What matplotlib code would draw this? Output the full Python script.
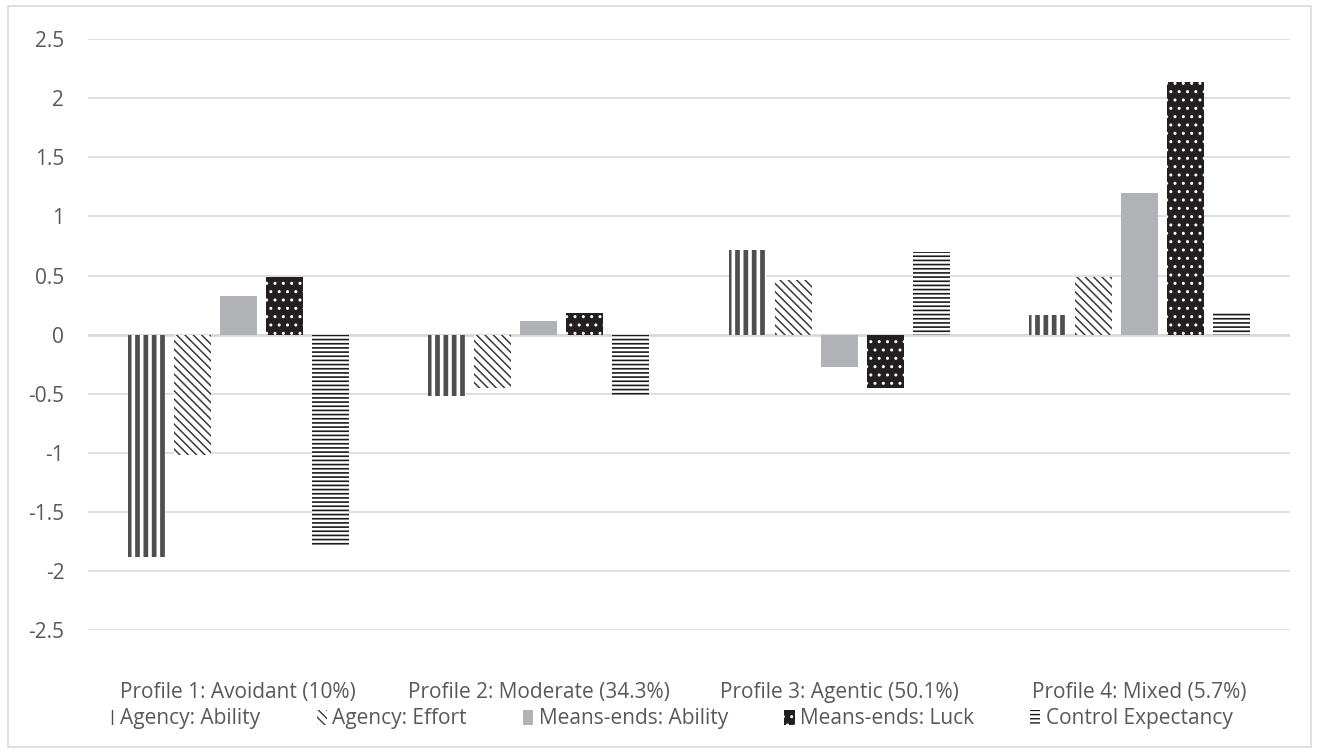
import numpy as np
import matplotlib
matplotlib.use("Agg")
import matplotlib.pyplot as plt
from matplotlib.patches import Rectangle

profiles = ["Profile 1: Avoidant (10%)", "Profile 2: Moderate (34.3%)",
            "Profile 3: Agentic (50.1%)", "Profile 4: Mixed (5.7%)"]
series = ["Agency: Ability", "Agency: Effort", "Means-ends: Ability",
          "Means-ends: Luck", "Control Expectancy"]

agency_ability = [-1.88, -0.52, 0.72, 0.17]
agency_effort = [-1.02, -0.45, 0.46, 0.49]
meansends_ability = [0.33, 0.12, -0.27, 1.20]
meansends_luck = [0.49, 0.18, -0.45, 2.14]
control_expectancy = [-1.78, -0.51, 0.70, 0.18]

values = [agency_ability, agency_effort, meansends_ability,
          meansends_luck, control_expectancy]

# fill, hatch colour, hatch, hatch line width
styles = [
    ("white", "#4f4f4f", "||", 3.4),
    ("white", "#3a3a3a", "\\\\\\\\", 1.1),
    ("#b1b2b6", "#b1b2b6", "", 1.0),
    ("#231f20", "white", "..", 1.0),
    ("white", "#1c1c1c", "----", 1.2),
]

plt.rcParams["font.family"] = ["Open Sans", "DejaVu Sans"]

fig = plt.figure(figsize=(13.19, 7.53), dpi=100)
ax = fig.add_axes([0.0667, 0.163, 0.9113, 0.785])

x = np.arange(len(profiles))
step = 0.153
width = 0.123
for i, (name, vals) in enumerate(zip(series, values)):
    fc, hc, hatch, hlw = styles[i]
    bars = ax.bar(x + (i - 2) * step, vals, width, color=fc, edgecolor=hc,
                  hatch=hatch, linewidth=0, label=name, zorder=3)
    for b in bars:
        if hasattr(b, "set_hatch_linewidth"):
            b.set_hatch_linewidth(hlw)

ax.set_xlim(-0.5, 3.5)
ax.set_ylim(-2.5, 2.5)
ax.set_yticks(np.arange(-2.5, 2.51, 0.5))
ax.set_yticklabels(["-2.5", "-2", "-1.5", "-1", "-0.5", "0", "0.5", "1",
                    "1.5", "2", "2.5"])
ax.set_xticks(x)
ax.set_xticklabels(profiles)
ax.tick_params(axis="y", length=0, pad=17, labelsize=15, labelcolor="#595959")
ax.tick_params(axis="x", length=0, pad=37, labelsize=15, labelcolor="#595959")
ax.grid(axis="y", color="#d9d9d9", linewidth=1.2, zorder=0)
ax.axhline(0, color="#d9d9d9", linewidth=2, zorder=2)
for s in ax.spines.values():
    s.set_visible(False)

leg = ax.legend(loc="center", bbox_to_anchor=(0.483, -0.15), ncol=5,
                frameon=False, fontsize=15, handlelength=0.5,
                handleheight=0.75, handletextpad=0.25, columnspacing=2.7,
                labelcolor="#595959")

# light frame round the whole chart
fig.patches.append(Rectangle((0.006, 0.008), 0.988, 0.984,
                             transform=fig.transFigure, fill=False,
                             edgecolor="#d9d9d9", linewidth=1.2))

fig.savefig("out.png", dpi=100)
